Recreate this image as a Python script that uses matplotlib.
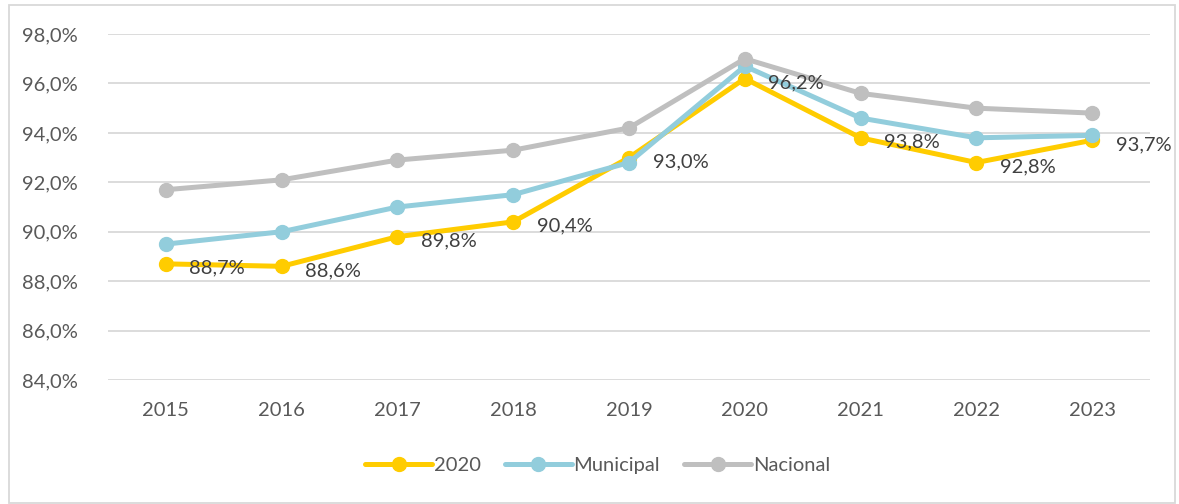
#!/usr/bin/env python3

import matplotlib
matplotlib.use("Agg")
from matplotlib import pyplot as plt
from matplotlib.patches import Rectangle
from matplotlib.ticker import FuncFormatter

years = ["2015", "2016", "2017", "2018", "2019", "2020", "2021", "2022", "2023"]
serie_2020 = [88.7, 88.6, 89.8, 90.4, 93.0, 96.2, 93.8, 92.8, 93.7]
municipal = [89.5, 90.0, 91.0, 91.5, 92.8, 96.7, 94.6, 93.8, 93.9]
nacional = [91.7, 92.1, 92.9, 93.3, 94.2, 97.0, 95.6, 95.0, 94.8]
yticks = [84, 86, 88, 90, 92, 94, 96, 98]

plt.rcParams['font.family'] = ['Lato', 'DejaVu Sans']

fig = plt.figure(figsize=(11.79, 5.04), dpi=100)
ax = fig.add_axes([0.0916, 0.246, 0.8838, 0.6865])

x = range(len(years))
style = dict(linewidth=3.6, marker='o', markersize=10, solid_capstyle='round')
ax.plot(x, serie_2020, color='#FFCC00', label='2020', zorder=3, **style)
ax.plot(x, municipal, color='#92CDDC', label='Municipal', zorder=4, **style)
ax.plot(x, nacional, color='#BFBFBF', label='Nacional', zorder=5, **style)

# data labels of the 2020 series, to the right of each point
for i, v in enumerate(serie_2020):
    ax.annotate(f"{v:.1f}%".replace('.', ','), (i, v), xytext=(17, -3),
                textcoords='offset points', ha='left', va='center',
                fontsize=14.5, color='#404040', zorder=6)

ax.set_xlim(-0.5, len(years) - 0.5)
ax.set_ylim(84, 98)
ax.set_xticks(list(x))
ax.set_xticklabels(years)
ax.set_yticks(yticks)
ax.yaxis.set_major_formatter(FuncFormatter(lambda v, p: f"{v:.1f}%".replace('.', ',')))
ax.tick_params(axis='both', length=0, labelsize=14.5, colors='#595959')
ax.tick_params(axis='x', pad=16)
ax.tick_params(axis='y', pad=22)
ax.grid(axis='y', color='#D9D9D9', linewidth=1.3)
ax.set_axisbelow(True)
for s in ax.spines.values():
    s.set_visible(False)

leg = ax.legend(loc='upper center', bbox_to_anchor=(0.47, -0.17), ncol=3, frameon=False,
                fontsize=14.5, handlelength=3.3, columnspacing=1.2, handletextpad=0.1)
for t in leg.get_texts():
    t.set_color('#595959')

# outer chart border
fig.patches.append(Rectangle((9 / 1179, 1 / 504), 1166 / 1179, 498 / 504,
                             transform=fig.transFigure, fill=False,
                             edgecolor='#D9D9D9', linewidth=1.3))

fig.savefig('out.png', dpi=100)
